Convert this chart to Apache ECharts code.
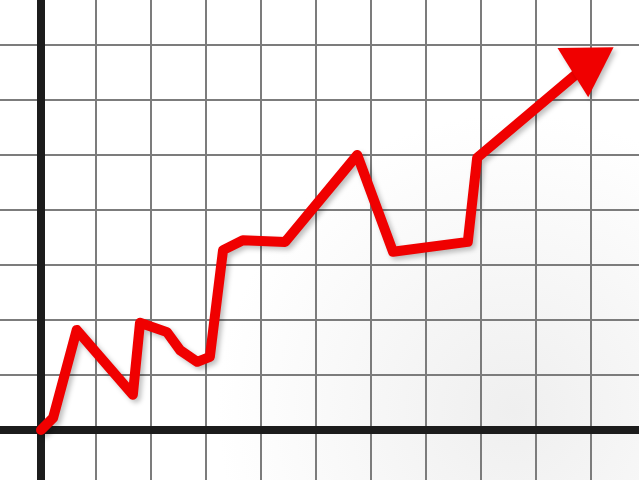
<!DOCTYPE html>
<html>
<head>
<meta charset="utf-8">
<script src="https://cdn.jsdelivr.net/npm/echarts@6/dist/echarts.min.js"></script>
<style>
html,body{margin:0;padding:0;background:#fff;overflow:hidden;width:639px;height:480px;position:relative}
#c{position:absolute;left:-14px;top:-10px;width:660px;height:495px}
</style>
</head>
<body>
<div id="c"></div>
<script>
// Path of the rising red line (grid units)
var xs = [0, 0.22, 0.65, 1.67, 1.8, 2.29, 2.53, 2.84, 3.07, 3.31, 3.67, 4.44, 5.75, 6.4, 7.76, 7.93, 10.04];
var ys = [0, 0.22, 1.82, 0.64, 1.95, 1.78, 1.45, 1.24, 1.33, 3.27, 3.45, 3.42, 5.0, 3.24, 3.42, 4.95, 6.73];
// Arrow head position
var arrowX = [10.04];
var arrowY = [6.73];

var lineData = xs.map(function (x, i) { return [x, ys[i]]; });
var arrowData = arrowX.map(function (x, i) { return [x, arrowY[i]]; });

var chart = echarts.init(document.getElementById('c'), null, {renderer: 'canvas'});
chart.setOption({
  animation: false,
  backgroundColor: {
    type: 'radial', x: 0.8, y: 0.85, r: 0.6,
    colorStops: [{offset: 0, color: '#efefef'}, {offset: 1, color: '#ffffff'}]
  },
  grid: {left: 0, right: 0, top: 0, bottom: 0},
  xAxis: {
    type: 'value', min: -1, max: 11, interval: 1,
    axisLabel: {show: false}, axisTick: {show: false},
    axisLine: {show: true, onZero: true, lineStyle: {color: '#1c1c1c', width: 8}},
    splitLine: {show: true, lineStyle: {color: '#7c7c7c', width: 2}}
  },
  yAxis: {
    type: 'value', min: -1, max: 8, interval: 1,
    axisLabel: {show: false}, axisTick: {show: false},
    axisLine: {show: true, onZero: true, lineStyle: {color: '#1c1c1c', width: 8}},
    splitLine: {show: true, lineStyle: {color: '#7c7c7c', width: 2}}
  },
  series: [
    {
      type: 'line', data: lineData, showSymbol: false, symbol: 'none', smooth: false,
      lineStyle: {
        color: '#f00000', width: 10, join: 'round', cap: 'round',
        shadowColor: 'rgba(0,0,0,0.25)', shadowBlur: 5, shadowOffsetX: 3, shadowOffsetY: 3
      },
      z: 3
    },
    {
      type: 'scatter', data: arrowData, symbol: 'triangle', symbolSize: [58, 48], symbolRotate: -58,
      itemStyle: {color: '#f00000', opacity: 1, shadowColor: 'rgba(0,0,0,0.25)', shadowBlur: 5, shadowOffsetX: 3, shadowOffsetY: 3},
      emphasis: {disabled: true},
      z: 4
    }
  ]
});
</script>
</body>
</html>
